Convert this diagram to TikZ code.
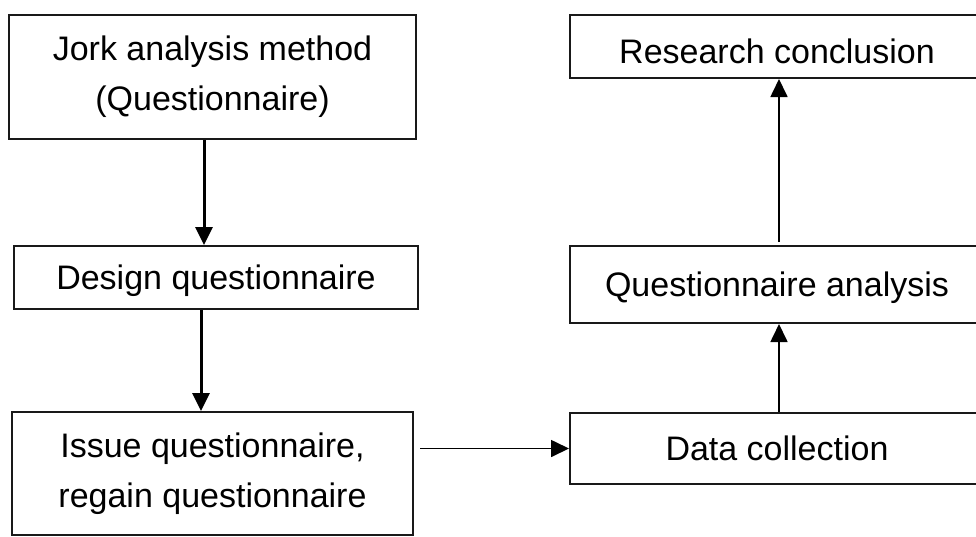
\documentclass[tikz,border=0pt]{standalone}
\usepackage{fontspec}
\setmainfont{Liberation Sans}
\usetikzlibrary{arrows.meta,positioning}
\tikzstyle{procbox} = [draw=black!90, line width=2pt, rectangle, align=center, inner sep=0pt, font=\fontsize{34}{50}\selectfont]
\tikzstyle{oneline} = [text height=24pt, text depth=0pt]
\tikzstyle{thickflow} = [line width=3pt, -{Triangle[length=18pt,width=17pt]}]
\tikzstyle{thinflow} = [line width=1.7pt, -{Triangle[length=18pt,width=17pt]}]

\begin{document}
\begin{tikzpicture}[x=1pt,y=-1pt]
	\useasboundingbox (0,0) rectangle (976,536);
	% left column
	\node[procbox, minimum width=407pt, minimum height=124pt] (jork) at (212.5,77) {Jork analysis method\\(Questionnaire)};
	\node[procbox, oneline, minimum width=404pt, minimum height=63pt] (design) at (216,277.5) {Design questionnaire};
	\node[procbox, minimum width=401pt, minimum height=123pt] (issue) at (212.5,473.5) {Issue questionnaire,\\regain questionnaire};
	% right column
	\node[procbox, oneline, minimum width=414pt, minimum height=71pt] (data) at (777,448.5) {Data collection};
	\node[procbox, oneline, minimum width=414pt, minimum height=77pt] (qanal) at (777,284.5) {Questionnaire analysis};
	\node[procbox, oneline, text height=33pt, minimum width=414pt, minimum height=63pt] (concl) at (777,46.5) {Research conclusion};
	% connectors
	\draw[thickflow] ([xshift=-8.5pt]jork.south) -- ([xshift=-12pt]design.north);
	\draw[thickflow] ([xshift=-15pt]design.south) -- ([xshift=-11.5pt]issue.north);
	\draw[thinflow] ([xshift=6pt]issue.east |- data.west) -- (data.west);
	\draw[thinflow] ([xshift=2pt]data.north) -- ([xshift=2pt]qanal.south);
	\draw[thinflow] ([xshift=2pt,yshift=3pt]qanal.north) -- ([xshift=2pt]concl.south);
\end{tikzpicture}
\end{document}
